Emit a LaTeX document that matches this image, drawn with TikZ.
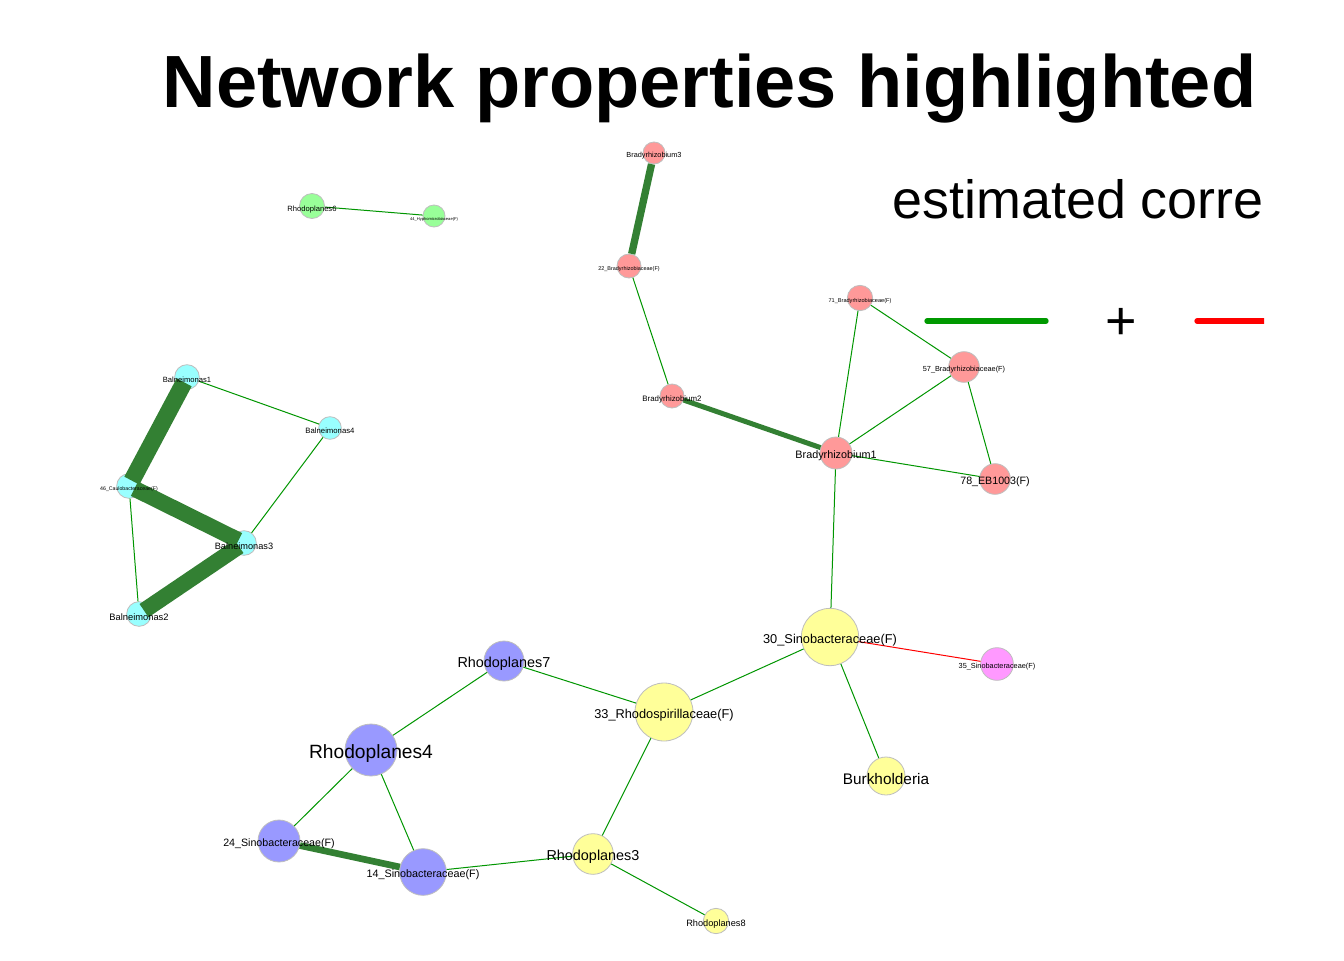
\documentclass[tikz,border=0pt]{standalone}
\usepackage{fontspec}
\setmainfont{Liberation Sans}
\definecolor{vborder}{RGB}{190,190,190}
\definecolor{weakg}{RGB}{0,150,0}
\definecolor{strongg}{RGB}{51,128,51}
\definecolor{legg}{RGB}{0,153,0}
\definecolor{vpink}{RGB}{255,153,153}
\definecolor{vcyan}{RGB}{153,255,255}
\definecolor{vgreen}{RGB}{153,255,153}
\definecolor{vyellow}{RGB}{255,255,153}
\definecolor{vblue}{RGB}{153,153,255}
\definecolor{vmag}{RGB}{255,153,255}
\begin{document}
\begin{tikzpicture}[x=0.75pt,y=-0.75pt,
  vtx/.style={circle,draw=vborder,line width=0.6pt,inner sep=0pt,minimum size=#1},
  lbl/.style={inner sep=0pt,text=black,yshift=-2.3pt,font=\fontsize{#1}{#1}\selectfont},
  weak/.style={draw=weakg,line width=0.75pt},
  neg/.style={draw=red,line width=0.75pt},
  strong/.style={draw=strongg,line width=#1},
  deep/.style={shorten <=-5pt,shorten >=-5pt},
  legline/.style={line width=4pt,line cap=round}]
\useasboundingbox[fill=white] (0,0) rectangle (1344,960);

% titles
\node[anchor=base,inner sep=0pt,font=\bfseries\fontsize{55.5pt}{60pt}\selectfont] (title) at (709.5,107) {Network properties highlighted};
\node[anchor=base east,inner sep=0pt,font=\fontsize{40.4pt}{44pt}\selectfont] (sub) at (1264,218) {estimated corre};
\node[inner sep=0pt,font=\fontsize{40.4pt}{44pt}\selectfont] (plus) at (1121,324) {+};
\coordinate (g1) at (927,321);
\coordinate (g2) at (1046,321);
\coordinate (r1) at (1197,321);
\coordinate (r2) at (1290,321);
\draw[legline,draw=legg] (g1) -- (g2);
\begin{scope}
\clip (0,0) rectangle (1264,960);
\draw[legline,draw=red] (r1) -- (r2);
\end{scope}

% vertices
\node[vtx=18.75pt,fill=vgreen] (Rh6) at (312,206) {};
\node[vtx=16.5pt,fill=vgreen] (H44) at (434,216) {};
\node[vtx=16.5pt,fill=vpink] (Br3) at (654,153) {};
\node[vtx=18pt,fill=vpink] (B22) at (629,266) {};
\node[vtx=18pt,fill=vpink] (Br2) at (672,396) {};
\node[vtx=24pt,fill=vpink] (Br1) at (836,453) {};
\node[vtx=19pt,fill=vpink] (B71) at (860,298) {};
\node[vtx=23pt,fill=vpink] (B57) at (964,367) {};
\node[vtx=23pt,fill=vpink] (E78) at (995,479) {};
\node[vtx=43pt,fill=vyellow] (S30) at (830,637) {};
\node[vtx=24.5pt,fill=vmag] (S35) at (997,664) {};
\node[vtx=28.5pt,fill=vyellow] (Bur) at (886,776) {};
\node[vtx=43.5pt,fill=vyellow] (R33) at (664,712) {};
\node[vtx=30pt,fill=vblue] (Rh7) at (504,661) {};
\node[vtx=39pt,fill=vblue] (Rh4) at (371,750) {};
\node[vtx=31.5pt,fill=vblue] (S24) at (279,841) {};
\node[vtx=35pt,fill=vblue] (S14) at (423,872) {};
\node[vtx=30.5pt,fill=vyellow] (Rh3) at (593,854) {};
\node[vtx=19pt,fill=vyellow] (Rh8) at (716,921) {};
\node[vtx=18.5pt,fill=vcyan] (Ba1) at (187,377) {};
\node[vtx=17pt,fill=vcyan] (Ba4) at (330,428) {};
\node[vtx=18.5pt,fill=vcyan] (C46) at (129,486) {};
\node[vtx=18.5pt,fill=vcyan] (Ba3) at (244,543) {};
\node[vtx=18.5pt,fill=vcyan] (Ba2) at (139,614) {};

% edges
\draw[weak] (Rh6) -- (H44);
\draw[strong=5.5pt] (Br3) -- (B22);
\draw[weak] (B22) -- (Br2);
\draw[strong=3.75pt] (Br2) -- (Br1);
\draw[weak] (B71) -- (B57);
\draw[weak] (B71) -- (Br1);
\draw[weak] (B57) -- (Br1);
\draw[weak] (B57) -- (E78);
\draw[weak] (Br1) -- (E78);
\draw[weak] (Br1) -- (S30);
\draw[neg] (S30) -- (S35);
\draw[weak] (S30) -- (R33);
\draw[weak] (S30) -- (Bur);
\draw[weak] (R33) -- (Rh7);
\draw[weak] (R33) -- (Rh3);
\draw[weak] (Rh7) -- (Rh4);
\draw[weak] (Rh4) -- (S24);
\draw[weak] (Rh4) -- (S14);
\draw[weak] (S14) -- (Rh3);
\draw[weak] (Rh3) -- (Rh8);
\draw[strong=5pt] (S24) -- (S14);
\draw[strong=12.75pt,deep] (Ba1) -- (C46);
\draw[strong=12pt,deep] (C46) -- (Ba3);
\draw[strong=12pt,deep] (Ba3) -- (Ba2);
\draw[weak] (Ba1) -- (Ba4);
\draw[weak] (Ba4) -- (Ba3);
\draw[weak] (C46) -- (Ba2);

% labels
\node[lbl=5.7pt] (lRh6) at (Rh6) {Rhodoplanes6};
\node[lbl=3.05pt] (lH44) at (H44) {44\_Hyphomicrobiaceae(F)};
\node[lbl=5.5pt] (lBr3) at (Br3) {Bradyrhizobium3};
\node[lbl=4.1pt] (lB22) at (B22) {22\_Bradyrhizobiaceae(F)};
\node[lbl=5.9pt] (lBr2) at (Br2) {Bradyrhizobium2};
\node[lbl=8.1pt] (lBr1) at (Br1) {Bradyrhizobium1};
\node[lbl=4.2pt] (lB71) at (B71) {71\_Bradyrhizobiaceae(F)};
\node[lbl=5.5pt] (lB57) at (B57) {57\_Bradyrhizobiaceae(F)};
\node[lbl=8pt] (lE78) at (E78) {78\_EB1003(F)};
\node[lbl=9.6pt] (lS30) at (S30) {30\_Sinobacteraceae(F)};
\node[lbl=5.5pt] (lS35) at (S35) {35\_Sinobacteraceae(F)};
\node[lbl=11.5pt] (lBur) at (Bur) {Burkholderia};
\node[lbl=9.6pt] (lR33) at (R33) {33\_Rhodospirillaceae(F)};
\node[lbl=10.8pt] (lRh7) at (Rh7) {Rhodoplanes7};
\node[lbl=14.4pt] (lRh4) at (Rh4) {Rhodoplanes4};
\node[lbl=8pt] (lS24) at (S24) {24\_Sinobacteraceae(F)};
\node[lbl=8.1pt] (lS14) at (S14) {14\_Sinobacteraceae(F)};
\node[lbl=10.8pt] (lRh3) at (Rh3) {Rhodoplanes3};
\node[lbl=6.9pt] (lRh8) at (Rh8) {Rhodoplanes8};
\node[lbl=5.7pt] (lBa1) at (Ba1) {Balneimonas1};
\node[lbl=5.8pt] (lBa4) at (Ba4) {Balneimonas4};
\node[lbl=3.9pt] (lC46) at (C46) {46\_Caulobacteraceae(F)};
\node[lbl=6.9pt] (lBa3) at (Ba3) {Balneimonas3};
\node[lbl=7pt] (lBa2) at (Ba2) {Balneimonas2};
\end{tikzpicture}
\end{document}
